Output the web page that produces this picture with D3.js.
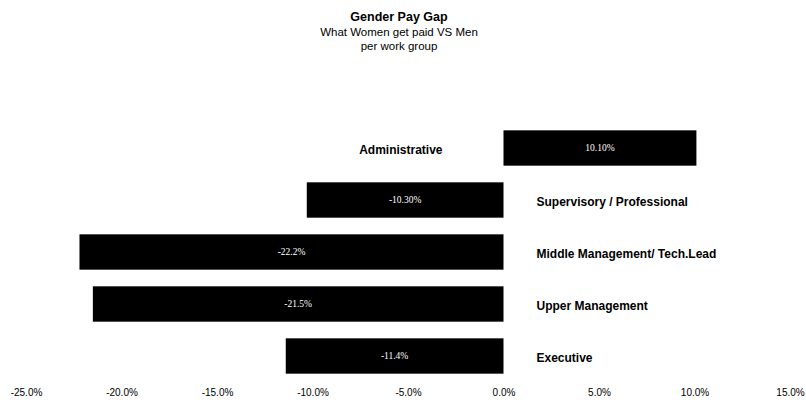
<!DOCTYPE html>
<html>
<head>
<meta charset="utf-8">
<script src="https://cdn.jsdelivr.net/npm/d3@7"></script>
<style>
  body { margin: 0; background: white; }
  text { font-family: "Liberation Sans", Arial, sans-serif; }
</style>
</head>
<body>
<div id="container"></div>
<script>
let w = 806;
let h = 403;

// data
let groups = ["Administrative", "Supervisory / Professional", "Middle Management/ Tech.Lead", "Upper Management", "Executive"];
let gap = [10.1, -10.3, -22.2, -21.5, -11.4];
let gapLabels = ["10.10%", "-10.30%", "-22.2%", "-21.5%", "-11.4%"];
let tickValues = [-25, -20, -15, -10, -5, 0, 5, 10, 15];

let viz = d3.select("#container")
  .append("svg")
    .attr("width", w)
    .attr("height", h)
    .style("background-color", "white")
;

let xScale = d3.scaleLinear().domain([-25, 15]).range([26, 790]);
let yScale = d3.scaleBand().domain(groups).range([122, 382]).paddingInner(0.32).paddingOuter(0.16);

let rows = groups.map(function(g, i){
  return {name: g, value: gap[i], label: gapLabels[i]};
});

// title
let title = viz.append("g").attr("text-anchor", "middle");
title.append("text").attr("x", 399).attr("y", 21)
  .style("font-size", "12.5px").style("font-weight", "bold").text("Gender Pay Gap");
title.append("text").attr("x", 399).attr("y", 36)
  .style("font-size", "11.5px").text("What Women get paid VS Men");
title.append("text").attr("x", 399).attr("y", 50)
  .style("font-size", "11.5px").text("per work group");

let datagroups = viz.selectAll(".datagroup").data(rows).enter()
  .append("g")
    .classed("datagroup", true)
;

datagroups.append("rect")
    .attr("x", function(d){ return xScale(Math.min(0, d.value)); })
    .attr("y", function(d){ return yScale(d.name); })
    .attr("width", function(d){ return Math.abs(xScale(d.value) - xScale(0)); })
    .attr("height", yScale.bandwidth())
    .attr("fill", "black")
;

datagroups.append("text")
    .text(function(d){ return d.label; })
    .attr("x", function(d){ return (xScale(d.value) + xScale(0)) / 2; })
    .attr("y", function(d){ return yScale(d.name) + yScale.bandwidth() / 2 + 3; })
    .attr("text-anchor", "middle")
    .attr("fill", "white")
    .style("font-family", "'Liberation Serif', 'Times New Roman', serif")
    .style("font-size", "9.5px")
;

// category labels on the opposite side of zero
datagroups.append("text")
    .text(function(d){ return d.name; })
    .attr("x", function(d){ return d.value > 0 ? xScale(0) - 61 : xScale(0) + 33; })
    .attr("y", function(d){ return yScale(d.name) + yScale.bandwidth() / 2 + 6; })
    .attr("text-anchor", function(d){ return d.value > 0 ? "end" : "start"; })
    .attr("fill", "black")
    .style("font-size", "12px")
    .style("font-weight", "bold")
;

// x axis (labels only)
let xAxis = d3.axisBottom(xScale)
  .tickValues(tickValues)
  .tickSize(0)
  .tickFormat(function(d){ return d.toFixed(1) + "%"; });

let axisG = viz.append("g")
  .attr("transform", "translate(0,386)")
  .call(xAxis);
axisG.select(".domain").remove();
axisG.selectAll("text")
  .style("font-family", "'Liberation Sans', Arial, sans-serif")
  .style("font-size", "10px")
  .attr("fill", "black");
</script>
</body>
</html>
